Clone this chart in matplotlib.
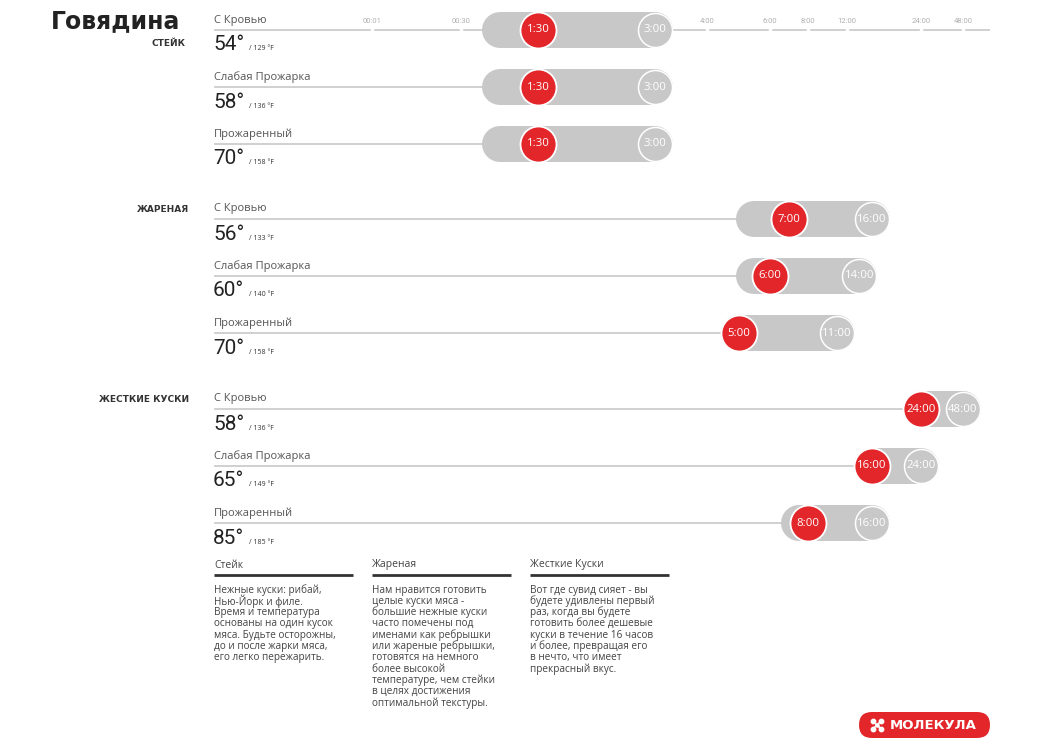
import numpy as np
import matplotlib
matplotlib.use("Agg")
import matplotlib.pyplot as plt
from matplotlib.patches import FancyBboxPatch

# ---------------- data ----------------
title = "Говядина"
groups = ["СТЕЙК", "ЖАРЕНАЯ", "ЖЕСТКИЕ КУСКИ"]
doneness = ["С Кровью", "Слабая Прожарка", "Прожаренный"]
temp_c = [[54, 58, 70], [56, 60, 70], [58, 65, 85]]
temp_f = [[129, 136, 158], [133, 140, 158], [136, 149, 185]]
time_min = [[1.5, 1.5, 1.5], [7, 6, 5], [24, 16, 8]]        # hours
time_max = [[3, 3, 3], [16, 14, 11], [48, 24, 16]]          # hours
range_start = [[1, 1, 1], [5.5, 5.5, 5], [24, 16, 7.5]]     # hours
tick_hours = [1 / 60, 0.5, 4, 6, 8, 12, 24, 48]
tick_labels = ["00:01", "00:30", "4:00", "6:00", "8:00", "12:00", "24:00", "48:00"]
desc_titles = ["Стейк", "Жареная", "Жесткие Куски"]
desc_texts = [
    "Нежные куски: рибай,\nНью-Йорк и филе.\nВремя и температура\nоснованы на один кусок\nмяса. Будьте осторожны,\nдо и после жарки мяса,\nего легко пережарить.",
    "Нам нравится готовить\nцелые куски мяса -\nбольшие нежные куски\nчасто помечены под\nименами как ребрышки\nили жареные ребрышки,\nготовятся на немного\nболее высокой\nтемпературе, чем стейки\nв целях достижения\nоптимальной текстуры.",
    "Вот где сувид сияет - вы\nбудете удивлены первый\nраз, когда вы будете\nготовить более дешевые\nкуски в течение 16 часов\nи более, превращая его\nв нечто, что имеет\nпрекрасный вкус.",
]
brand = "МОЛЕКУЛА"

# ---------------- time scale (non-uniform axis) ----------------
SCALE_T = [0, 1 / 60, 0.5, 1.5, 3, 4, 6, 8, 12, 24, 48, 64]
SCALE_P = [214, 372, 461, 538, 655, 707, 770, 808, 847, 921, 963, 990]


def fwd(t):
    return np.interp(t, SCALE_T, SCALE_P)


def inv(p):
    return np.interp(p, SCALE_P, SCALE_T)


def fmt_h(h):
    hh = int(h)
    mm = int(round((h - hh) * 60))
    return f"{hh}:{mm:02d}"


RED = "#e3262a"
PILL = "#c8c8c8"
LINE = "#c8c8c8"
W, H = 1040, 751

fig = plt.figure(figsize=(W / 100, H / 100), dpi=100)
ax = fig.add_axes([0, 0, 1, 1])
ax.set_xlim(0, W)
ax.set_ylim(H, 0)
ax.axis("off")

tax = fig.add_axes([214 / W, 0, (990 - 214) / W, 1])
tax.set_xscale("function", functions=(fwd, inv))
tax.set_xlim(0, 64)
tax.set_ylim(H, 0)
tax.axis("off")
tax.patch.set_alpha(0)

SANS = ["Open Sans", "DejaVu Sans"]
LIGHT = ["Roboto", "DejaVu Sans"]

ax.text(180, 21, title, ha="right", va="center", fontsize=17, fontweight="bold",
        color="#222222", family=["DejaVu Sans"])

group_y0 = [30, 219, 409]
row_gap = 57
pt = 0.72  # points per pixel

for g in range(3):
    gy = group_y0[g]
    if g == 0:
        ax.text(185, gy + 14, groups[g], ha="right", va="center", fontsize=6.5,
                fontweight="bold", color="#333333", family=["DejaVu Sans"])
    else:
        ax.text(189, gy - 9, groups[g], ha="right", va="center", fontsize=6.5,
                fontweight="bold", color="#333333", family=["DejaVu Sans"])
    for r in range(3):
        L = gy + r * row_gap
        ax.text(214, L - 10, doneness[r], ha="left", va="center", fontsize=8,
                color="#555555", family=SANS)
        ax.text(213, L + 15, f"{temp_c[g][r]}°", ha="left", va="center", fontsize=15,
                color="#222222", family=LIGHT, fontweight="normal")
        ax.text(249, L + 19, f"/ {temp_f[g][r]} °F", ha="left", va="center", fontsize=5,
                color="#333333", family=SANS)
        # guide line up to the range
        if g == 0 and r == 0:
            tax.plot([0, 64], [L, L], color=LINE, lw=1.2, zorder=1,
                     solid_capstyle="butt")
            tax.plot(tick_hours, [L] * len(tick_hours), ls="none", marker="|",
                     ms=5, mew=2.5, color="white", zorder=1.5)
            for th, tl in zip(tick_hours, tick_labels):
                tax.text(th, L - 9, tl, ha="center", va="center", fontsize=5.5,
                         color="#b0b0b0", family=LIGHT, zorder=1.5)
        else:
            tax.plot([0, range_start[g][r]], [L, L], color=LINE, lw=1.2, zorder=1,
                     solid_capstyle="butt")
        # pill
        tax.plot([range_start[g][r], time_max[g][r]], [L, L], color=PILL,
                 lw=36 * pt, solid_capstyle="round", zorder=2)
        # circles
        tax.scatter([time_max[g][r]], [L], s=(34 * pt) ** 2, color=PILL,
                    edgecolors="white", linewidths=1.1, zorder=3)
        tax.scatter([time_min[g][r]], [L], s=(36 * pt) ** 2, color=RED,
                    edgecolors="white", linewidths=1.3, zorder=4)
        tax.text(time_max[g][r], L, fmt_h(time_max[g][r]), ha="center", va="center",
                 fontsize=8.2, color="white", family=SANS, zorder=5)
        tax.text(time_min[g][r], L, fmt_h(time_min[g][r]), ha="center", va="center",
                 fontsize=8.2, color="white", family=SANS, zorder=5)

# descriptions
for i, (t, body) in enumerate(zip(desc_titles, desc_texts)):
    x0 = 214 + i * 158
    ax.text(x0, 565, t, ha="left", va="center", fontsize=7.5, color="#444444", family=SANS)
    ax.plot([x0, x0 + 139], [575, 575], color="#333333", lw=2, solid_capstyle="butt")
    for k, line in enumerate(body.split("\n")):
        ax.text(x0, 590 + k * 11.3, line, ha="left", va="center", fontsize=7.2,
                color="#444444", family=SANS)

# brand badge
badge = FancyBboxPatch((859, 712), 131, 26, boxstyle="round,pad=0,rounding_size=13",
                       fc=RED, ec="none", zorder=5)
ax.add_patch(badge)
cx, cy = 877, 725
offs = [(-4, -4), (4, -4), (-4, 4), (4, 4)]
for dx, dy in offs:
    ax.plot([cx, cx + dx], [cy, cy + dy], color="white", lw=1.2, zorder=6)
ax.scatter([cx + d[0] for d in offs], [cy + d[1] for d in offs],
           s=10, color="white", zorder=7)
ax.scatter([cx], [cy], s=5, color="white", zorder=7)
ax.text(933, 725.5, brand, ha="center", va="center", fontsize=9.5, fontweight="bold",
        color="white", family=["DejaVu Sans"], zorder=7)

fig.savefig("out.png", dpi=100, facecolor="white")
